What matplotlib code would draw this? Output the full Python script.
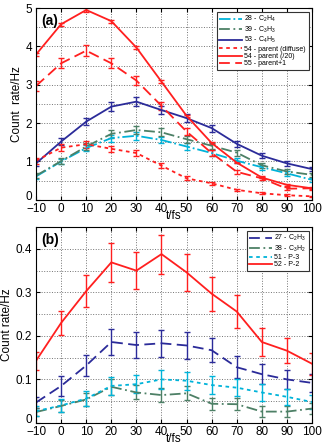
import numpy as np
import matplotlib
matplotlib.use("Agg")
import matplotlib.pyplot as plt

plt.rcParams['font.family'] = ['Liberation Sans', 'DejaVu Sans']
plt.rcParams['mathtext.fontset'] = 'custom'
plt.rcParams['mathtext.rm'] = 'Liberation Sans'

t = [-10, 0, 10, 20, 30, 40, 50, 60, 70, 80, 90, 100]

# panel (a)
a_c2h4 = [0.61, 1.00, 1.35, 1.61, 1.67, 1.56, 1.39, 1.22, 1.02, 0.85, 0.69, 0.52]
a_c2h4_err = [0.07, 0.07, 0.08, 0.09, 0.10, 0.09, 0.09, 0.08, 0.07, 0.06, 0.06, 0.06]
a_c3h3 = [0.63, 1.01, 1.39, 1.72, 1.82, 1.76, 1.58, 1.41, 1.23, 0.90, 0.74, 0.65]
a_c3h3_err = [0.07, 0.07, 0.08, 0.10, 0.10, 0.10, 0.09, 0.08, 0.08, 0.06, 0.06, 0.06]
a_c4h5 = [0.95, 1.52, 2.04, 2.43, 2.56, 2.34, 2.13, 1.87, 1.46, 1.15, 0.95, 0.80]
a_c4h5_err = [0.08, 0.09, 0.10, 0.11, 0.12, 0.11, 0.10, 0.09, 0.08, 0.07, 0.06, 0.05]
a_diffuse = [1.02, 1.36, 1.45, 1.33, 1.22, 0.89, 0.56, 0.43, 0.26, 0.17, 0.12, 0.09]
a_diffuse_err = [0.08, 0.09, 0.09, 0.08, 0.07, 0.06, 0.05, 0.04, 0.03, 0.03, 0.02, 0.02]
a_parent = [3.79, 4.58, 4.95, 4.66, 3.97, 3.08, 2.19, 1.48, 0.97, 0.58, 0.39, 0.30]
a_parent_err = [0.04, 0.04, 0.05, 0.04, 0.04, 0.04, 0.03, 0.03, 0.02, 0.02, 0.02, 0.02]
a_parent1 = [2.97, 3.56, 3.89, 3.56, 3.11, 2.45, 1.78, 1.22, 0.73, 0.56, 0.29, 0.30]
a_parent1_err = [0.12, 0.13, 0.14, 0.13, 0.12, 0.11, 0.10, 0.08, 0.06, 0.05, 0.04, 0.04]

# panel (b)
b_c2h3 = [0.047, 0.085, 0.132, 0.186, 0.179, 0.183, 0.178, 0.167, 0.128, 0.112, 0.100, 0.092]
b_c2h3_err = [0.012, 0.022, 0.025, 0.031, 0.030, 0.031, 0.030, 0.028, 0.025, 0.023, 0.022, 0.021]
b_c3h2 = [0.025, 0.039, 0.054, 0.083, 0.070, 0.064, 0.068, 0.044, 0.043, 0.026, 0.026, 0.033]
b_c3h2_err = [0.010, 0.013, 0.015, 0.018, 0.016, 0.016, 0.016, 0.014, 0.014, 0.012, 0.012, 0.013]
b_p3 = [0.027, 0.040, 0.056, 0.085, 0.089, 0.100, 0.097, 0.087, 0.081, 0.070, 0.060, 0.048]
b_p3_err = [0.012, 0.015, 0.017, 0.020, 0.021, 0.022, 0.021, 0.020, 0.020, 0.019, 0.018, 0.016]
b_p2 = [0.143, 0.230, 0.303, 0.369, 0.350, 0.388, 0.346, 0.297, 0.256, 0.186, 0.166, 0.136]
b_p2_err = [0.021, 0.028, 0.037, 0.044, 0.042, 0.045, 0.042, 0.039, 0.037, 0.032, 0.029, 0.025]

cyan = (0.0, 0.70, 0.85)
green = (0.30, 0.50, 0.40)
blue = (0.17, 0.17, 0.60)
red = (1.0, 0.12, 0.12)


def style_axes(ax, ymax, ystep, ygrid):
    ax.set_xlim(-10, 100)
    ax.set_ylim(0, ymax)
    ax.set_xticks(t)
    ax.set_yticks(np.arange(0, ymax + 1e-9, ystep))
    ax.set_yticks(np.arange(0, ymax + 1e-9, ygrid), minor=True)
    ax.grid(True, which='both', linestyle=':', color='0.45', linewidth=0.7)
    ax.tick_params(which='both', direction='in', top=True, right=True,
                   labelsize=8.5, length=3)
    ax.tick_params(axis='x', pad=2)
    ax.tick_params(axis='y', pad=3)
    ax.tick_params(which='minor', length=0)
    for s in ax.spines.values():
        s.set_linewidth(0.8)
    ax.set_xlabel('t/fs', fontsize=8.5, labelpad=-3.5)


def add_legend(ax, items):
    leg = ax.legend([c.lines[0] for c, _ in items], [lab for _, lab in items],
                    loc='upper right', fontsize=5, handlelength=3.2,
                    handletextpad=0.4, labelspacing=0.05, borderpad=0.35,
                    fancybox=False, framealpha=1, edgecolor='0.2')
    leg.get_frame().set_linewidth(0.8)


fig = plt.figure(figsize=(3.25, 4.48), dpi=100)
ax1 = fig.add_axes([0.111, 0.554, 0.849, 0.428])
ax2 = fig.add_axes([0.111, 0.056, 0.849, 0.437])

kw = dict(capsize=2.5, elinewidth=1.0, capthick=1.0, linewidth=1.3)
dashdot = (0, (6, 2, 1, 2))
dashed = (0, (6, 3))
dotted = (0, (2, 2))

items1 = [
    (ax1.errorbar(t, a_c2h4, yerr=a_c2h4_err, color=cyan, linestyle='-.', **kw), '28 - C$_2$H$_4$'),
    (ax1.errorbar(t, a_c3h3, yerr=a_c3h3_err, color=green, linestyle=dashdot, **kw), '39 - C$_3$H$_3$'),
    (ax1.errorbar(t, a_c4h5, yerr=a_c4h5_err, color=blue, linestyle='-', **kw), '53 - C$_4$H$_5$'),
    (ax1.errorbar(t, a_diffuse, yerr=a_diffuse_err, color=red, linestyle=dotted, **kw), '54 - parent (diffuse)'),
    (ax1.errorbar(t, a_parent, yerr=a_parent_err, color=red, linestyle='-', **kw), '54 - parent (/20)'),
    (ax1.errorbar(t, a_parent1, yerr=a_parent1_err, color=red, linestyle=dashed, **kw), '55 - parent+1'),
]
style_axes(ax1, 5, 1, 0.5)
ax1.set_ylabel('Count  rate/Hz', fontsize=8.5, labelpad=2)
ax1.text(0.02, 0.97, '(a)', transform=ax1.transAxes, fontsize=10,
         fontweight='bold', va='top', ha='left')
add_legend(ax1, items1)

items2 = [
    (ax2.errorbar(t, b_c2h3, yerr=b_c2h3_err, color=blue, linestyle=dashed, **kw), '27 - C$_2$H$_3$'),
    (ax2.errorbar(t, b_c3h2, yerr=b_c3h2_err, color=green, linestyle=dashdot, **kw), '38 - C$_3$H$_2$'),
    (ax2.errorbar(t, b_p3, yerr=b_p3_err, color=cyan, linestyle=dotted, **kw), '51 - P-3'),
    (ax2.errorbar(t, b_p2, yerr=b_p2_err, color=red, linestyle='-', **kw), '52 - P-2'),
]
style_axes(ax2, 0.45, 0.1, 0.05)
ax2.set_yticks([0, 0.1, 0.2, 0.3, 0.4])
ax2.set_yticklabels(['0', '0.1', '0.2', '0.3', '0.4'])
ax2.set_ylabel('Count rate/Hz', fontsize=8.5, labelpad=2)
ax2.text(0.02, 0.97, '(b)', transform=ax2.transAxes, fontsize=10,
         fontweight='bold', va='top', ha='left')
add_legend(ax2, items2)

# lift the "0" y labels a little so they clear the "-10" x labels
for ax in (ax1, ax2):
    ax.get_yticklabels()[0].set_verticalalignment('baseline')

fig.savefig('out.png', dpi=100)
